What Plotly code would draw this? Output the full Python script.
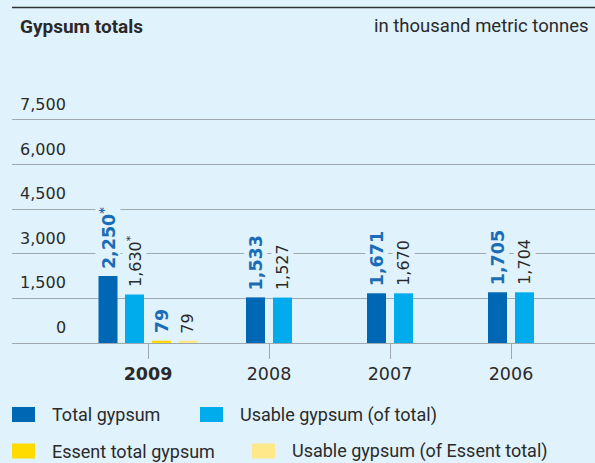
import plotly.graph_objects as go

# ---- data (thousand metric tonnes) ----
years = ["2009", "2008", "2007", "2006"]
total_gypsum = [2250, 1533, 1671, 1705]
usable_gypsum = [1630, 1527, 1670, 1704]
essent_years = ["2009"]
essent_total = [79]
essent_usable = [79]
footnotes = ["*", "", "", ""]
year_labels = ["<b>2009</b>", "2008", "2007", "2006"]
y_ticks = [0, 1500, 3000, 4500, 6000, 7500]
series_names = ["Total gypsum", "Usable gypsum (of total)",
                "Essent total gypsum", "Usable gypsum (of Essent total)"]

# ---- styling ----
BG = "#e0f2fc"
C_TOTAL = "#0067b4"
C_USABLE = "#00acec"
C_ESSENT = "#ffdb00"
C_ESSENT_USABLE = "#fee88a"
GRID = "#9ea8ae"
TEXT = "#2a2a2a"
LABEL_BLUE = "#1a6cb6"
SANS = "Roboto"
NUM = "DejaVu Sans"

W, H = 595, 463
L, R, T, B = 12, 0, 100, 120
PX_PER_CAT = 121.0
BAR_W = 19.0


def px_x(px):
    return (px - L) / (W - L - R)


def px_y(py):
    return (H - B - py) / (H - T - B)


def fmt(v):
    return f"{v:,}"


# bar centre offsets from the category centre, in pixels
def centres(n, shift_first, shift_rest):
    return [shift_first if i == 0 else shift_rest for i in range(n)]


total_shift = centres(len(years), -40, -13.5)
usable_shift = centres(len(years), -13.5, 13.5)
essent_shift = [13.5]
essent_usable_shift = [40]


def offs(shifts):
    return [(s - BAR_W / 2) / PX_PER_CAT for s in shifts]


fig = go.Figure()
for name, xs, ys, col, sh in [
    (series_names[0], years, total_gypsum, C_TOTAL, total_shift),
    (series_names[1], years, usable_gypsum, C_USABLE, usable_shift),
    (series_names[2], essent_years, essent_total, C_ESSENT, essent_shift),
    (series_names[3], essent_years, essent_usable, C_ESSENT_USABLE, essent_usable_shift),
]:
    fig.add_trace(go.Bar(
        x=xs, y=ys, name=name, marker=dict(color=col, line=dict(width=0)),
        width=BAR_W / PX_PER_CAT, offset=offs(sh), showlegend=False,
        hoverinfo="skip",
    ))

annotations = []
shapes = []


# value labels, rotated above each bar
def value_labels(xs, ys, shifts, notes, bold, color, size):
    for x, y, s, n in zip(xs, ys, shifts, notes):
        txt = fmt(y) + (f"<sup>{n}</sup>" if n else "")
        if bold:
            txt = f"<b>{txt}</b>"
        annotations.append(dict(
            x=years.index(x), y=y, xref="x", yref="y", text=txt,
            textangle=-90, showarrow=False, xanchor="center",
            yanchor="bottom", xshift=s, yshift=5,
            font=dict(family=NUM, size=size, color=color),
            bgcolor=BG, borderpad=1,
        ))


value_labels(years, total_gypsum, total_shift, footnotes, True, LABEL_BLUE, 17.5)
value_labels(years, usable_gypsum, usable_shift, footnotes, False, TEXT, 16)
value_labels(essent_years, essent_total, essent_shift, [""], True, LABEL_BLUE, 17.5)
value_labels(essent_years, essent_usable, essent_usable_shift, [""], False, TEXT, 16)

# y tick labels, right aligned above their gridlines
for v in y_ticks:
    annotations.append(dict(
        x=px_x(68), y=v, xref="paper", yref="y", text=fmt(v),
        showarrow=False, xanchor="right", yanchor="bottom", yshift=4,
        font=dict(family=NUM, size=16, color=TEXT),
    ))

# header
shapes.append(dict(type="line", xref="paper", yref="paper",
                   x0=px_x(12), x1=1, y0=px_y(7.5), y1=px_y(7.5),
                   line=dict(color="#333333", width=1.3)))
annotations.append(dict(x=px_x(18), y=px_y(26), xref="paper", yref="paper",
                        text="<b>Gypsum totals</b>", showarrow=False,
                        xanchor="left", yanchor="middle",
                        font=dict(family=SANS, size=19, color=TEXT)))
annotations.append(dict(x=px_x(590), y=px_y(26), xref="paper", yref="paper",
                        text="in thousand metric tonnes", showarrow=False,
                        xanchor="right", yanchor="middle",
                        font=dict(family=SANS, size=18.5, color=TEXT)))

# legend
legend_items = [
    (series_names[0], C_TOTAL, 12, 50, 414.5),
    (series_names[1], C_USABLE, 200, 238, 414.5),
    (series_names[2], C_ESSENT, 12, 50, 451),
    (series_names[3], C_ESSENT_USABLE, 252, 290, 451),
]
for name, col, sx, tx, cy in legend_items:
    shapes.append(dict(type="rect", xref="paper", yref="paper",
                       x0=px_x(sx), x1=px_x(sx + 23),
                       y0=px_y(cy - 7.5), y1=px_y(cy + 7.5),
                       fillcolor=col, line=dict(width=0)))
    annotations.append(dict(x=px_x(tx), y=px_y(cy), xref="paper", yref="paper",
                            text=name, showarrow=False, xanchor="left",
                            yanchor="middle",
                            font=dict(family=SANS, size=18, color=TEXT)))

fig.update_layout(
    width=W, height=H,
    margin=dict(l=L, r=R, t=T, b=B, pad=0),
    paper_bgcolor=BG, plot_bgcolor=BG,
    barmode="overlay", showlegend=False,
    annotations=annotations, shapes=shapes,
    xaxis=dict(
        type="category", categoryorder="array", categoryarray=years,
        range=[(L - 148) / PX_PER_CAT, (W - R - 148) / PX_PER_CAT],
        tickmode="array", tickvals=years, ticktext=year_labels,
        ticks="outside", ticklen=15, tickwidth=1.3, tickcolor=GRID,
        showline=True, linecolor=GRID, linewidth=1.3,
        showgrid=False, zeroline=False,
        tickfont=dict(family=NUM, size=17.5, color=TEXT),
        fixedrange=True,
    ),
    yaxis=dict(
        range=[0, 8170], tickmode="array", tickvals=y_ticks,
        showticklabels=False, showgrid=True, gridcolor=GRID, gridwidth=1.3,
        zeroline=False, showline=False, ticks="", fixedrange=True,
    ),
)

fig.write_html("out.html")
